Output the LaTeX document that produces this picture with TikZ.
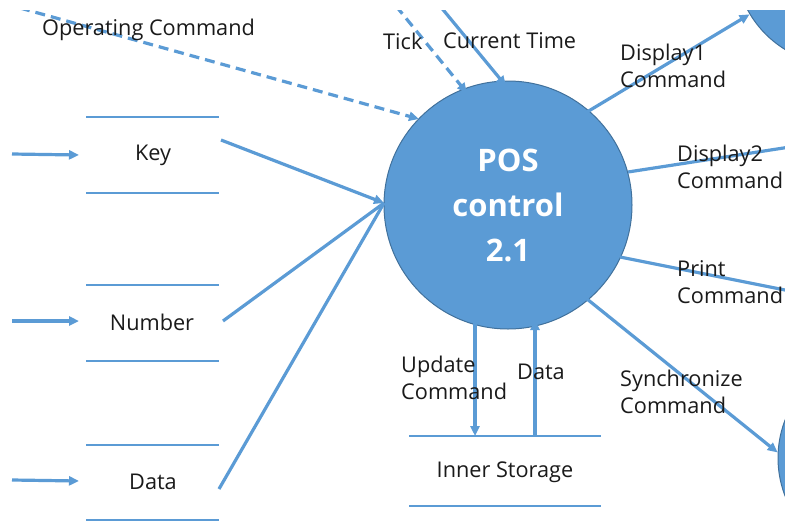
\documentclass[tikz,border=0pt]{standalone}
\usepackage{fontspec}
\setmainfont{Open Sans}
\usetikzlibrary{arrows.meta}
\definecolor{flowblue}{HTML}{5B9BD5}
\definecolor{rimblue}{HTML}{41719C}
\definecolor{ink}{HTML}{1A1A1A}
\begin{document}
\begin{tikzpicture}[x=1pt,y=-1pt,
  flow/.style={draw=flowblue,line width=3.2pt,-{Triangle[length=10pt,width=9pt]}},
  plain/.style={draw=flowblue,line width=3.2pt},
  dflow/.style={flow,dash pattern=on 10pt off 6pt},
  storeline/.style={draw=flowblue,line width=2.8pt},
  lbl/.style={inner sep=0pt,text=ink,font=\fontsize{21.7}{27}\selectfont,align=left},
  proc/.style={circle,fill=flowblue,draw=rimblue,line width=1pt,inner sep=0pt,
    minimum size=#1},
]
\useasboundingbox (0,0) rectangle (785,520);
\clip (0,10) rectangle (785,520);

% central process
\node[proc=248pt,text=white,align=center,
  font=\bfseries\fontsize{31}{45}\selectfont] (pos) at (508,205) {POS\\control\\2.1};
% neighbouring processes, only partly in view
\node[proc=210pt] (disp1) at (840,-40) {};
\node[proc=210pt] (sync) at (883,458) {};

% data stores
\foreach \y/\n in {117/ka,193/kb,285/na,361/nb,445/da,520/db}{
  \coordinate (\n l) at (86,\y); \coordinate (\n r) at (219,\y);
  \draw[storeline] (\n l) -- (\n r);
}
\node[lbl] (key) at (153,155) {Key};
\node[lbl] (num) at (152,322) {Number};
\node[lbl] (dat) at (153,482) {Data};

\coordinate (isa l) at (409,436); \coordinate (isa r) at (601,436);
\coordinate (isb l) at (409,506); \coordinate (isb r) at (601,506);
\draw[storeline] (isa l) -- (isa r);
\draw[storeline] (isb l) -- (isb r);
\node[lbl] (inner) at (505,472) {Inner Storage};

% inputs into the stores
\coordinate (kin) at (12,154); \coordinate (kend) at (79,155);
\coordinate (nin) at (12,321); \coordinate (nend) at (79,321);
\coordinate (din) at (12,480); \coordinate (dend) at (79,481);
\draw[flow] (kin) -- (kend);
\draw[flow] (nin) -- (nend);
\draw[flow] (din) -- (dend);

% stores into the process
\coordinate (join) at (384,203);
\coordinate (kout) at (221,140);
\coordinate (nout) at (223,321);
\coordinate (dout) at (219,489);
\draw[plain] (nout) -- (join);
\draw[plain] (dout) -- (join);
\draw[flow] (kout) -- (join);

% control and time inputs
\coordinate (opsrc) at (20,8);   \coordinate (opend) at (419,119);
\coordinate (ticksrc) at (396,6); \coordinate (tickend) at (467,93);
\coordinate (timesrc) at (440,6); \coordinate (timeend) at (506,86);
\draw[dflow] (opsrc) -- (opend);
\draw[dflow] (ticksrc) -- (tickend);
\draw[flow] (timesrc) -- (timeend);

% outputs
\coordinate (d1s) at (587,112);
\draw[flow] (d1s) -- (disp1);
\coordinate (d2s) at (628,172); \coordinate (d2e) at (790,147);
\draw[plain] (d2s) -- (d2e);
\coordinate (prs) at (620,257); \coordinate (pre) at (790,291);
\draw[plain] (prs) -- (pre);
\coordinate (sys) at (587,299);
\draw[flow] (sys) -- (sync.177);

% inner storage exchange
\coordinate (ups) at (475,321); \coordinate (upe) at (475,436);
\coordinate (dts) at (535,436); \coordinate (dte) at (535,320);
\draw[flow] (ups) -- (upe);
\draw[flow] (dts) -- (dte);

% labels
\node[lbl,anchor=west] (lop) at (42,30) {Operating Command};
\node[lbl,anchor=west] (ltick) at (383,41) {Tick};
\node[lbl,anchor=west] (ltime) at (443,41) {Current Time};
\node[lbl,anchor=west] (ld1) at (620,66) {Display1\\Command};
\node[lbl,anchor=west] (ld2) at (677,167) {Display2\\Command};
\node[lbl,anchor=west] (lpr) at (677,282) {Print\\Command};
\node[lbl,anchor=west] (lsy) at (620,392) {Synchronize\\Command};
\node[lbl,anchor=west] (lup) at (401,378) {Update\\Command};
\node[lbl,anchor=west] (ldt) at (517,372) {Data};
\end{tikzpicture}
\end{document}
